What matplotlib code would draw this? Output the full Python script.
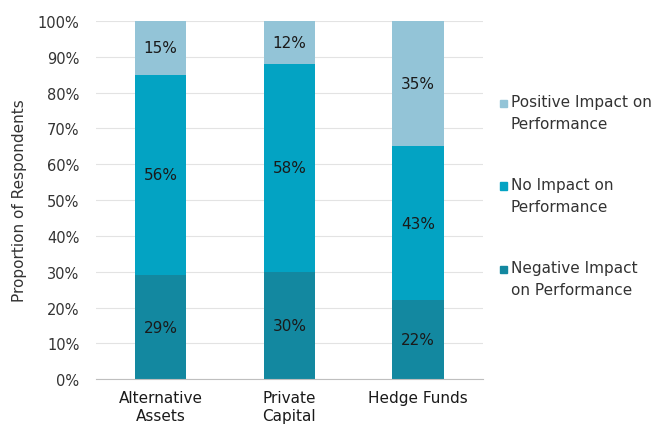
import numpy as np
import matplotlib.pyplot as plt
from matplotlib.patches import Rectangle

categories = ['Alternative\nAssets', 'Private\nCapital', 'Hedge Funds']
negative = [29, 30, 22]
no_impact = [56, 58, 43]
positive = [15, 12, 35]
series_names = ['Negative Impact\non Performance', 'No Impact on\nPerformance',
                'Positive Impact on\nPerformance']
colors = ['#1388A0', '#03A3C3', '#93C4D7']

plt.rcParams['font.family'] = 'DejaVu Sans'
W, H = 663, 431
fig = plt.figure(figsize=(W / 100, H / 100), dpi=100)
ax = fig.add_axes([0.145, 0.118, 0.583, 0.831])

x = np.arange(len(categories))
bottom = np.zeros(len(categories))
for vals, name, c in zip([negative, no_impact, positive], series_names, colors):
    ax.bar(x, vals, 0.4, bottom=bottom, color=c, label=name, zorder=2)
    for xi, b, v in zip(x, bottom, vals):
        ax.text(xi, b + v / 2, f'{v}%', ha='center', va='center', fontsize=11,
                color='#1a1a1a', zorder=3)
    bottom += np.array(vals)

ax.set_xlim(-0.5, 2.5)
ax.set_ylim(0, 100)
ax.set_yticks(range(0, 101, 10))
ax.set_yticklabels([f'{v}%' for v in range(0, 101, 10)], fontsize=10.5, color='#333333')
ax.set_xticks(x)
ax.set_xticklabels(categories, fontsize=11, color='#1a1a1a')
ax.tick_params(length=0)
ax.tick_params(axis='y', pad=12)
ax.tick_params(axis='x', pad=8)
ax.yaxis.grid(True, color='#E3E3E3', linewidth=0.8, zorder=0)
ax.set_axisbelow(True)
for s in ['top', 'right', 'left']:
    ax.spines[s].set_visible(False)
ax.spines['bottom'].set_color('#BFBFBF')
ax.set_ylabel('Proportion of Respondents', fontsize=11, color='#333333', labelpad=8)

# legend drawn by hand so the swatch sits on the first text line
for i, (name, c) in enumerate(zip(series_names[::-1], colors[::-1])):
    yc = 104 + 83 * i
    fig.add_artist(Rectangle((500 / W, 1 - (yc + 3.5) / H), 7 / W, 7 / H,
                             transform=fig.transFigure, color=c))
    fig.text(511 / W, 1 - (yc - 9) / H, name, ha='left', va='top', fontsize=11,
             color='#333333', linespacing=1.55)

fig.savefig('out.png', dpi=100)
